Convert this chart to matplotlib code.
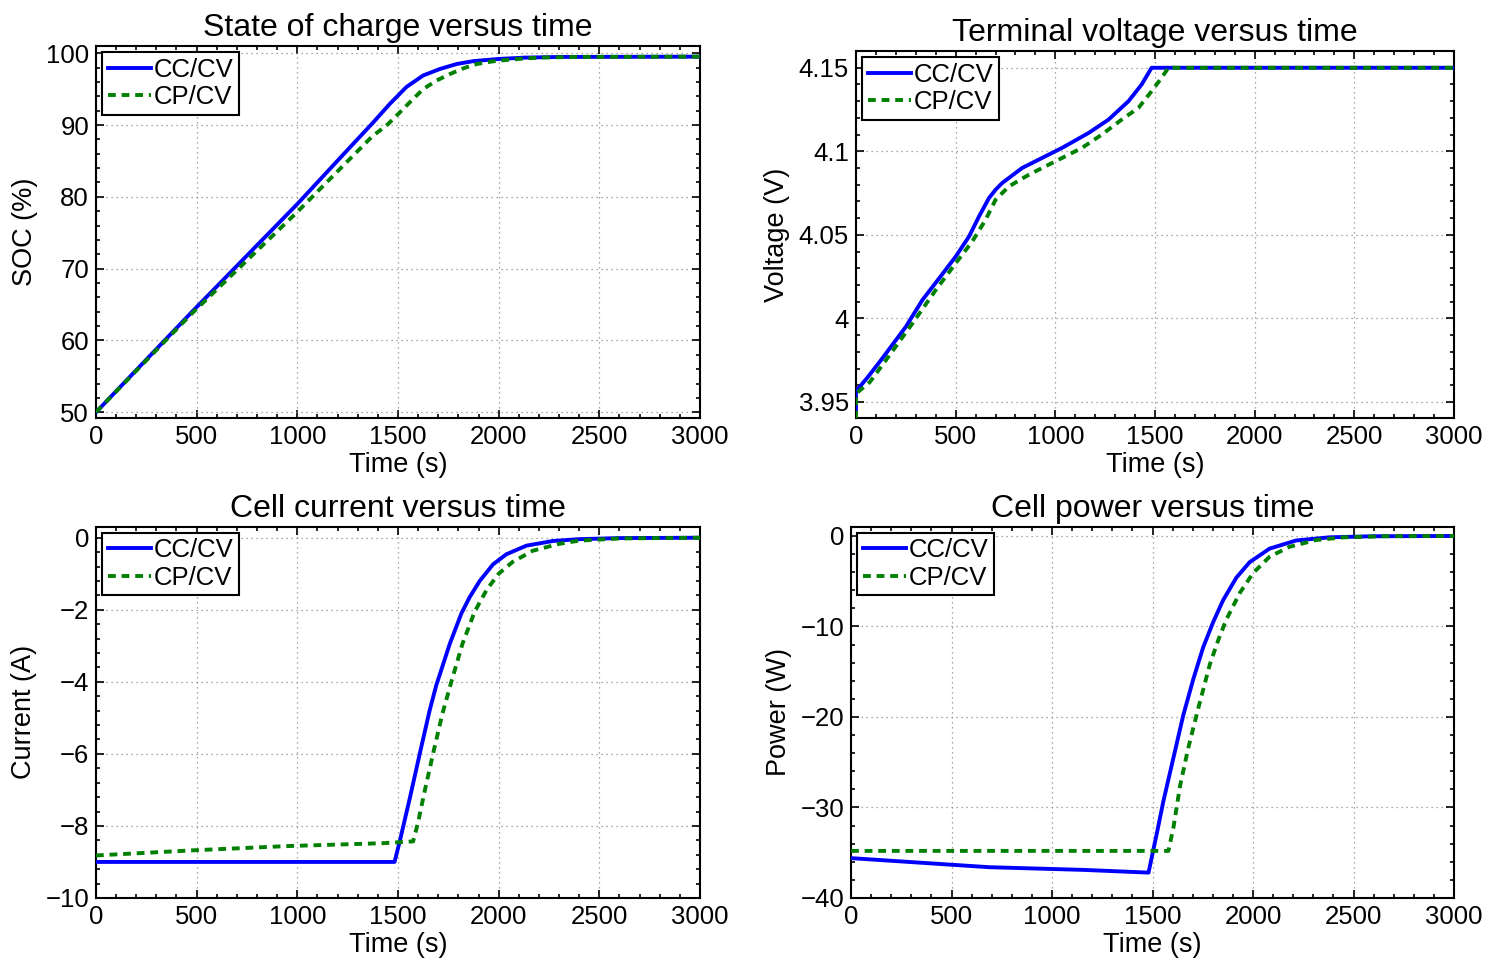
import matplotlib.pyplot as plt
from matplotlib.ticker import AutoMinorLocator, FuncFormatter

plt.rcParams['font.family'] = ['Liberation Sans', 'DejaVu Sans']

# State of charge (%)
soc_cc_t = [0, 474, 1000, 1275, 1375, 1458, 1500, 1542, 1625, 1708, 1792, 1875, 2000,
            2125, 2300, 3000]
soc_cc = [50, 63.9, 79.0, 87.3, 90.3, 92.9, 94.1, 95.3, 96.9, 97.8, 98.5, 98.9, 99.2,
          99.38, 99.48, 99.52]
soc_cp_t = [0, 474, 1000, 1375, 1442, 1500, 1567, 1625, 1692, 1758, 1825, 1892, 1967,
            2042, 2125, 2208, 2400, 3000]
soc_cp = [50, 63.7, 77.9, 88.5, 89.9, 91.5, 93.4, 95.0, 96.2, 97.1, 97.9, 98.5, 98.85,
          99.07, 99.26, 99.4, 99.48, 99.52]

# Terminal voltage (V)
v_cc_t = [0, 0, 60, 125, 250, 333, 417, 500, 567, 617, 667, 700, 733, 833, 933, 1033,
          1167, 1267, 1367, 1433, 1483, 3000]
v_cc = [3.945, 3.9564, 3.965, 3.975, 3.995, 4.011, 4.024, 4.037, 4.049, 4.061, 4.072,
        4.077, 4.081, 4.090, 4.096, 4.102, 4.111, 4.119, 4.130, 4.140, 4.15, 4.15]
v_cp_t = [0, 0, 70, 150, 283, 400, 500, 583, 650, 700, 767, 867, 1000, 1133, 1233, 1333,
          1417, 1483, 1533, 1567, 3000]
v_cp = [3.94, 3.955, 3.962, 3.975, 3.997, 4.017, 4.033, 4.046, 4.059, 4.071, 4.079,
        4.086, 4.094, 4.102, 4.110, 4.119, 4.126, 4.136, 4.144, 4.15, 4.15]

# Cell current (A)
i_cc_t = [0, 1483, 1510, 1560, 1608, 1657, 1690, 1757, 1815, 1856, 1906, 1972, 2038,
          2138, 2270, 2400, 2600, 3000]
i_cc = [-9.0, -9.0, -8.4, -7.2, -6.0, -4.8, -4.1, -2.95, -2.1, -1.65, -1.2, -0.74, -0.46,
        -0.22, -0.09, -0.04, -0.01, 0.0]
i_cp_t = [0, 474, 949, 1423, 1575, 1600, 1630, 1674, 1720, 1765, 1820, 1881, 1940, 2000,
          2070, 2170, 2300, 2400, 2600, 3000]
i_cp = [-8.82, -8.68, -8.56, -8.48, -8.43, -7.9, -7.1, -6.0, -4.9, -4.0, -2.95, -2.05,
        -1.45, -1.0, -0.67, -0.36, -0.17, -0.08, -0.02, 0.0]

# Cell power (W)
p_cc_t = [0, 686, 1159, 1480, 1521, 1554, 1604, 1653, 1703, 1752, 1802, 1851, 1917,
          1983, 2082, 2214, 2379, 2600, 3000]
p_cc = [-35.6, -36.6, -36.9, -37.2, -32.9, -29.3, -24.5, -19.8, -15.8, -12.3, -9.5,
        -7.1, -4.6, -2.9, -1.4, -0.5, -0.15, -0.03, 0.0]
p_cp_t = [0, 1579, 1604, 1637, 1678, 1728, 1785, 1827, 1868, 1934, 2000, 2082, 2181,
          2313, 2450, 2650, 3000]
p_cp = [-34.8, -34.8, -32.2, -27.6, -23.4, -19.0, -14.2, -11.5, -9.2, -6.3, -4.1, -2.3,
        -1.2, -0.45, -0.15, -0.03, 0.0]

fig = plt.figure(figsize=(14.97, 9.67), dpi=100)

panels = [
    ([0.0641, 0.5677, 0.4035, 0.3847], 'State of charge versus time', 'SOC (%)',
     (49.2, 101), [50, 60, 70, 80, 90, 100], soc_cc_t, soc_cc, soc_cp_t, soc_cp),
    ([0.5718, 0.5677, 0.3995, 0.3795], 'Terminal voltage versus time', 'Voltage (V)',
     (3.9404, 4.160), [3.95, 4.0, 4.05, 4.1, 4.15], v_cc_t, v_cc, v_cp_t, v_cp),
    ([0.0641, 0.0714, 0.4035, 0.3837], 'Cell current versus time', 'Current (A)',
     (-10, 0.3), [-10, -8, -6, -4, -2, 0], i_cc_t, i_cc, i_cp_t, i_cp),
    ([0.5685, 0.0714, 0.4028, 0.3837], 'Cell power versus time', 'Power (W)',
     (-40, 1.0), [-40, -30, -20, -10, 0], p_cc_t, p_cc, p_cp_t, p_cp),
]

fmt = FuncFormatter(lambda v, pos: ('%g' % v).replace('-', '\u2212'))

for rect, title, ylabel, ylim, yticks, t1, y1, t2, y2 in panels:
    ax = fig.add_axes(rect)
    ax.plot(t1, y1, color='#0000ff', lw=2.8, label='CC/CV', zorder=3,
            solid_joinstyle='round')
    ax.plot(t2, y2, color='#008000', lw=2.8, ls=(0, (2.0, 1.5)), label='CP/CV', zorder=4)
    ax.set_xlim(0, 3000)
    ax.set_ylim(*ylim)
    ax.set_xticks([0, 500, 1000, 1500, 2000, 2500, 3000])
    ax.set_yticks(yticks)
    ax.yaxis.set_major_formatter(fmt)
    ax.xaxis.set_minor_locator(AutoMinorLocator(5))
    ax.yaxis.set_minor_locator(AutoMinorLocator(5))
    ax.tick_params(which='both', direction='in', top=True, right=True, labelsize=18.5,
                   width=1.2, pad=5)
    ax.tick_params(which='major', length=6)
    ax.tick_params(which='minor', length=3)
    ax.grid(True, which='major', ls=(0, (1, 3)), color='#8c8c8c', lw=0.9)
    for s in ax.spines.values():
        s.set_linewidth(1.5)
    ax.set_title(title, fontsize=23, pad=7)
    ax.set_xlabel('Time (s)', fontsize=19.5, labelpad=2)
    ax.set_ylabel(ylabel, fontsize=19.5, labelpad=6)
    leg = ax.legend(loc='upper left', fontsize=18.5, handlelength=1.7, handletextpad=0.1,
                    borderpad=0.2, labelspacing=0.15, fancybox=False, framealpha=1,
                    borderaxespad=0.25)
    leg.get_frame().set_edgecolor('black')
    leg.get_frame().set_linewidth(1.5)

fig.savefig('out.png', dpi=100)
